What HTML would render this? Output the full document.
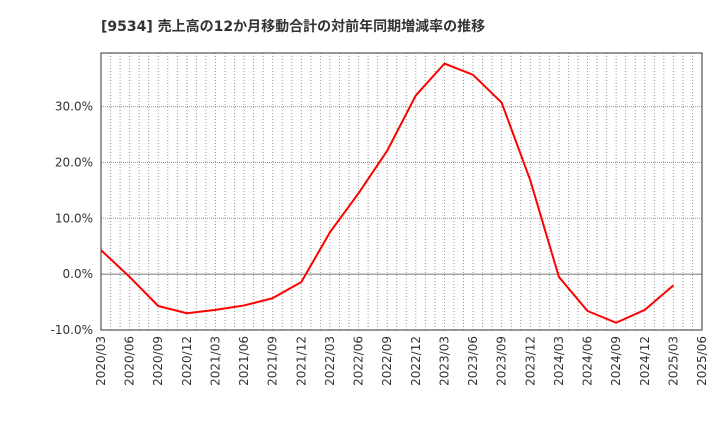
<!DOCTYPE html>
<html><head><meta charset="utf-8"><style>
body{margin:0;background:#fff;font-family:"DejaVu Sans","Noto Sans CJK JP",sans-serif;}
</style></head><body>
<svg id="c" width="720" height="440" xmlns="http://www.w3.org/2000/svg" font-family="DejaVu Sans, Noto Sans CJK JP, sans-serif">
<text x="101" y="31" font-size="14" font-weight="bold" fill="#333">[9534]  売上高の12か月移動合計の対前年同期増減率の推移</text>
</svg>
<script>
const xLabels=["2020/03","2020/06","2020/09","2020/12","2021/03","2021/06","2021/09","2021/12","2022/03","2022/06","2022/09","2022/12","2023/03","2023/06","2023/09","2023/12","2024/03","2024/06","2024/09","2024/12","2025/03","2025/06"];
const values=[4.3,-0.5,-5.7,-7.0,-6.4,-5.6,-4.3,-1.4,7.5,14.5,22.1,32.0,37.7,35.7,30.7,16.8,-0.5,-6.6,-8.7,-6.4,-2.0];
const yTicks=[-10,0,10,20,30];
const NS="http://www.w3.org/2000/svg";
const svg=document.getElementById("c");
const L=101,R=702,T=53,B=330,yMin=-10,yMax=39.6;
const n=xLabels.length-1;
function x(i){return L+(R-L)*i/n;}
function y(v){return B-(v-yMin)/(yMax-yMin)*(B-T);}
function mk(tag,attrs){const e=document.createElementNS(NS,tag);for(const k in attrs)e.setAttribute(k,attrs[k]);svg.appendChild(e);return e;}
for(let m=1;m<n*3;m++){const xx=L+(R-L)*m/(n*3);
const g=mk("line",{x1:xx,x2:xx,y1:T,y2:B,stroke:"#999","stroke-width":1,"stroke-dasharray":"1,2"});

}
yTicks.forEach(t=>{const yy=y(t);
if(t!==yMin){const g=mk("line",{x1:L,x2:R,y1:yy,y2:yy,stroke:t===0?"#777":"#999","stroke-width":1,"stroke-dasharray":t===0?"":"1,1"});

}
const tx=mk("text",{x:L-8,y:yy+4,"text-anchor":"end","font-size":12,fill:"#333"});
tx.textContent=t.toFixed(1)+"%";

});
xLabels.forEach((lb,i)=>{const xx=x(i);
const tx=mk("text",{x:0,y:0,"text-anchor":"end","font-size":12,fill:"#333",transform:`translate(${xx+4},${B+6}) rotate(-90)`});
tx.textContent=lb;

});
const fr=mk("rect",{x:L,y:T,width:R-L,height:B-T,fill:"none",stroke:"#333","stroke-width":1});


const pl=mk("polyline",{points:values.map((v,i)=>x(i)+","+y(v)).join(" "),fill:"none",stroke:"#f00","stroke-width":2,"stroke-linejoin":"round"});


</script>
</body></html>
